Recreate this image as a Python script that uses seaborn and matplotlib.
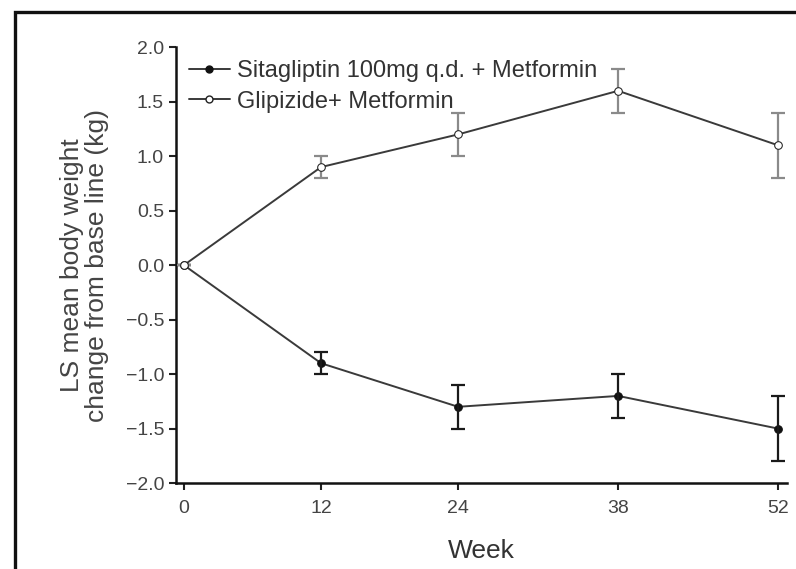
import numpy as np
import pandas as pd
import matplotlib
matplotlib.use("Agg")
import matplotlib.pyplot as plt
import seaborn as sns
from matplotlib.patches import Rectangle
from matplotlib.lines import Line2D

weeks = [0, 12, 24, 38, 52]
sitagliptin_mean = [0.0, -0.9, -1.3, -1.2, -1.5]
sitagliptin_err = [0.0, 0.1, 0.2, 0.2, 0.3]
glipizide_mean = [0.0, 0.9, 1.2, 1.6, 1.1]
glipizide_err = [0.0, 0.1, 0.2, 0.2, 0.3]
series_names = ["Sitagliptin 100mg q.d. + Metformin", "Glipizide+ Metformin"]
y_ticks = [-2.0, -1.5, -1.0, -0.5, 0.0, 0.5, 1.0, 1.5, 2.0]

sns.set_theme(style="ticks")
plt.rcParams["font.family"] = ["Liberation Sans", "DejaVu Sans"]

df = pd.DataFrame({
    "Week": weeks * 2,
    "Change": sitagliptin_mean + glipizide_mean,
    "Group": [series_names[0]] * len(weeks) + [series_names[1]] * len(weeks),
})

fig = plt.figure(figsize=(7.96, 5.69), dpi=100)
ax = fig.add_axes([0.221, 0.151, 0.768, 0.766])

line_color = "#3a3a3a"
sns.lineplot(data=df, x="Week", y="Change", hue="Group", style="Group",
             palette=[line_color, line_color], markers=["o", "o"], dashes=False,
             errorbar=None, linewidth=1.4, markersize=5.5, legend=False, ax=ax)

# filled vs. open markers
lines = ax.get_lines()
lines[0].set_markerfacecolor("#111111")
lines[0].set_markeredgecolor("#111111")
lines[1].set_markerfacecolor("white")
lines[1].set_markeredgecolor("#222222")
lines[1].set_zorder(4)

ax.errorbar(weeks, sitagliptin_mean, yerr=sitagliptin_err, fmt="none",
            ecolor="#1a1a1a", elinewidth=1.6, capsize=5, capthick=1.6, zorder=3)
ax.errorbar(weeks, glipizide_mean, yerr=glipizide_err, fmt="none",
            ecolor="#8a8a8a", elinewidth=1.6, capsize=5, capthick=1.6, zorder=3)

ax.set_xlim(-0.7, 52.8)
ax.set_ylim(-2.0, 2.0)
ax.set_xticks(weeks)
ax.set_yticks(y_ticks)
ax.set_yticklabels([f"{t:.1f}".replace("-", "\u2212") for t in y_ticks])
ax.tick_params(axis="both", labelsize=14, colors="#222222", length=5, width=1.5,
               direction="out")
ax.tick_params(axis="x", pad=7)
for lbl in ax.get_xticklabels() + ax.get_yticklabels():
    lbl.set_color("#444444")

sns.despine(ax=ax)
for side in ("left", "bottom"):
    ax.spines[side].set_linewidth(1.8)
    ax.spines[side].set_color("#111111")

ax.set_xlabel("Week", fontsize=19, color="#333333", labelpad=16)
ax.set_ylabel("LS mean body weight\nchange from base line (kg)", fontsize=19,
              color="#444444", labelpad=12, linespacing=1.05)

handles = [
    Line2D([], [], color=line_color, lw=1.4, marker="o", markersize=5,
           markerfacecolor="#111111", markeredgecolor="#111111"),
    Line2D([], [], color=line_color, lw=1.4, marker="o", markersize=5,
           markerfacecolor="white", markeredgecolor="#222222"),
]
leg = ax.legend(handles, series_names, loc="upper left", frameon=False,
                fontsize=17, handlelength=1.7, handletextpad=0.3,
                labelspacing=0.35, bbox_to_anchor=(-0.005, 1.008),
                borderaxespad=0.3)
for t in leg.get_texts():
    t.set_color("#333333")

# outer frame
fig.patches.append(Rectangle((15 / 796, -0.1), 1.2, 1 - 12 / 569 + 0.1,
                             transform=fig.transFigure, fill=False,
                             edgecolor="#111111", linewidth=2.4))

fig.savefig("out.png", dpi=100)
